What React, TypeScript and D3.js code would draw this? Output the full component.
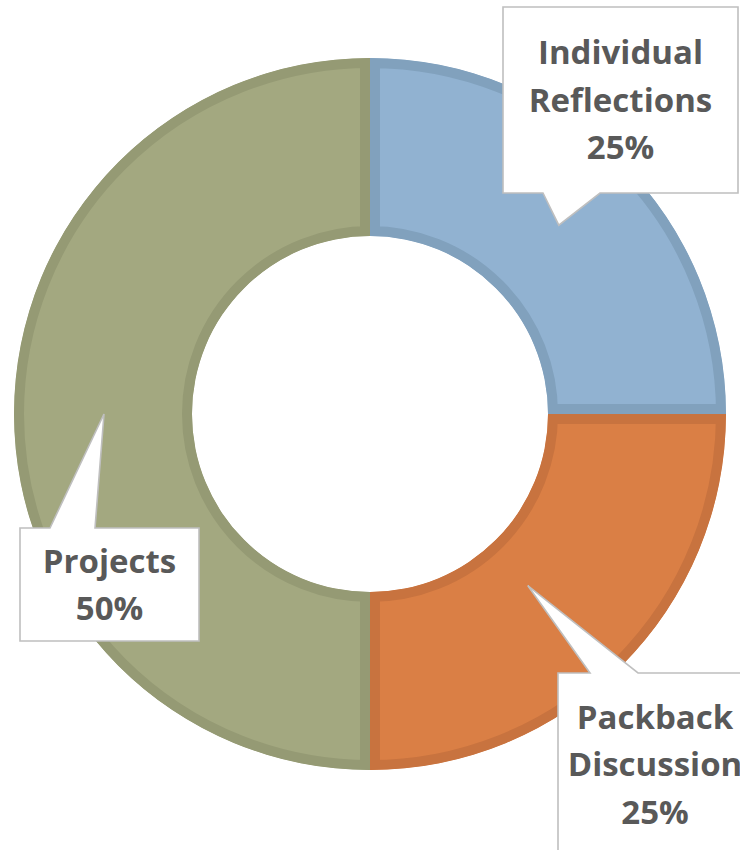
import React from "react";
import * as d3 from "d3";

const WIDTH = 740;
const HEIGHT = 850;
const CX = 370;
const CY = 414;
const OUTER = 356;
const INNER = 178;
const BORDER = 10;

const categories = ["Individual Reflections", "Packback Discussion", "Projects"];
const shares = [25, 25, 50];
const fillColors = ["#91b2d1", "#da7f45", "#a3a880"];
const edgeColors = ["#81a1bd", "#c8733f", "#959a74"];

// label text lines per slice
const labelLines = [["Individual", "Reflections"], ["Packback", "Discussion"], ["Projects"]];

// callout boxes: [x, y, w, h], pointer base on box edge, tip in polar (radius, angle deg)
const boxes = [
  [503, 7, 235, 186],
  [558, 673, 200, 200],
  [20, 528, 179, 113],
];
const pointerBase = [
  [[543, 193], [600, 193]],
  [[590, 673], [638, 673]],
  [[50, 528], [95, 528]],
];
const tipPolar = [
  [267, 45],
  [233, 137.4],
  [266, 270],
];

interface Slice {
  name: string;
  value: number;
  i: number;
}

export default function App() {
  const data: Slice[] = categories.map((name, i) => ({ name, value: shares[i], i }));
  const pie = d3.pie<Slice>().value((d) => d.value).sort(null);
  const arcs = pie(data);
  const arc = d3.arc<d3.PieArcDatum<Slice>>().innerRadius(INNER).outerRadius(OUTER);

  return (
    <svg
      width={WIDTH}
      height={HEIGHT}
      style={{ position: "absolute", left: 0, top: 0 }}
      fontFamily="'Open Sans', 'Noto Sans', sans-serif"
    >
      <defs>
        {arcs.map((a) => (
          <clipPath id={"clip" + a.data.i} key={a.data.i}>
            <path d={arc(a) || ""} />
          </clipPath>
        ))}
      </defs>
      <g transform={`translate(${CX},${CY})`}>
        {arcs.map((a) => (
          <path
            key={a.data.i}
            d={arc(a) || ""}
            fill={fillColors[a.data.i]}
            stroke={edgeColors[a.data.i]}
            strokeWidth={BORDER * 2}
            clipPath={`url(#clip${a.data.i})`}
          />
        ))}
      </g>
      <g>
        {arcs.map((a) => {
          const i = a.data.i;
          const [bx, by, bw, bh] = boxes[i];
          const [r, deg] = tipPolar[i];
          const rad = (deg * Math.PI) / 180;
          const tx = CX + r * Math.sin(rad);
          const ty = CY - r * Math.cos(rad);
          const [p1, p2] = pointerBase[i];
          const lines = [...labelLines[i], a.data.value + "%"];
          const midX = bx + bw / 2;
          const lineH = 47.5;
          const topY = by + bh / 2 - ((lines.length - 1) * lineH) / 2;
          const textX = i === 1 ? 655 : midX;
          const textTop = i === 1 ? 717 : topY;
          // outline: box with a notch for the pointer
          let d: string;
          if (p1[1] === by) {
            d = `M${bx},${by} L${p1[0]},${p1[1]} L${tx},${ty} L${p2[0]},${p2[1]} L${bx + bw},${by} L${bx + bw},${by + bh} L${bx},${by + bh} Z`;
          } else {
            d = `M${bx},${by} L${bx + bw},${by} L${bx + bw},${by + bh} L${p2[0]},${p2[1]} L${tx},${ty} L${p1[0]},${p1[1]} L${bx},${by + bh} Z`;
          }
          return (
            <g key={i}>
              <path d={d} fill="#ffffff" stroke="#bfbfbf" strokeWidth={1.6} strokeLinejoin="miter" />
              {lines.map((t, k) => (
                <text
                  key={k}
                  x={textX}
                  y={textTop + k * lineH}
                  dy="0.36em"
                  textAnchor="middle"
                  fontSize={33}
                  fontWeight="bold"
                  fill="#595959"
                >
                  {t}
                </text>
              ))}
            </g>
          );
        })}
      </g>
    </svg>
  );
}
